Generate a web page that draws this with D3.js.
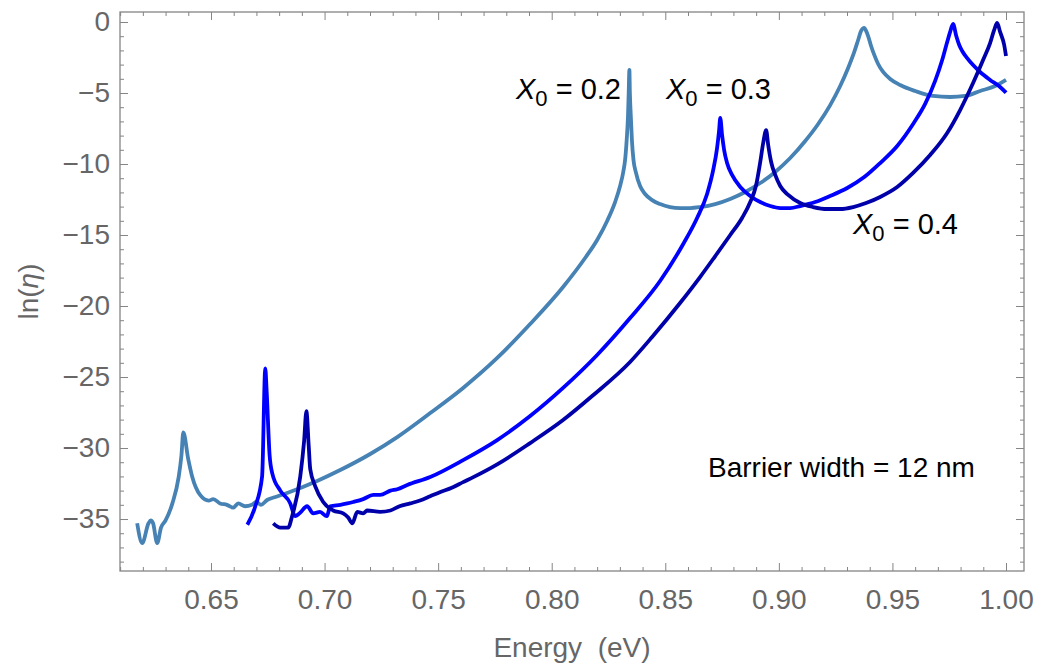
<!DOCTYPE html>
<html><head><meta charset="utf-8">
<script src="https://cdn.jsdelivr.net/npm/d3@7"></script>
<style>
html,body{margin:0;padding:0;background:#fff;}
svg{display:block;font-family:"Liberation Sans",Arial,sans-serif;}
</style></head>
<body>
<svg id="chart" width="1051" height="666"></svg>
<script>
// ---- data (Energy in eV, ln(eta)) ----
const series02 = [[0.6175,-35.3],[0.6197,-36.7],[0.6225,-35.3],[0.6235,-35.1],[0.6245,-35.3],[0.6263,-36.7],[0.628,-35.6],[0.630,-35.1],[0.633,-33.9],[0.6357,-32.1],[0.6370,-30.5],[0.6378,-28.9],[0.6400,-30.8],[0.6417,-32.0],[0.6452,-33.3],[0.649,-33.7],[0.651,-33.6],[0.654,-33.9],[0.657,-34.0],[0.6598,-34.2],[0.662,-33.9],[0.665,-34.1],[0.668,-34.0],[0.670,-33.8],[0.672,-34.0],[0.6747,-33.66],[0.678,-33.47],[0.6835,-33.17],[0.6967,-32.32],[0.7069,-31.55],[0.7201,-30.42],[0.7320,-29.23],[0.7465,-27.54],[0.7610,-25.77],[0.7760,-23.66],[0.7905,-21.27],[0.8050,-18.66],[0.8147,-16.62],[0.8200,-15.35],[0.8244,-14.01],[0.8279,-12.68],[0.8301,-11.55],[0.8315,-10.56],[0.8323,-9.72],[0.8330,-8.31],[0.8336,-6.55],[0.8339,-4.93],[0.8342,-3.38],[0.8344,-4.93],[0.8348,-6.55],[0.8353,-8.31],[0.8360,-9.72],[0.8370,-10.56],[0.8389,-11.55],[0.8411,-12.11],[0.8442,-12.54],[0.8477,-12.82],[0.8521,-13.03],[0.8566,-13.10],[0.8610,-13.10],[0.8654,-13.03],[0.8720,-12.82],[0.8786,-12.46],[0.8852,-11.97],[0.8918,-11.34],[0.8984,-10.56],[0.9050,-9.58],[0.9116,-8.38],[0.9173,-7.18],[0.9226,-5.85],[0.9270,-4.51],[0.9305,-3.24],[0.9332,-2.11],[0.9349,-1.27],[0.9362,-0.63],[0.9376,-0.42],[0.9384,-0.63],[0.9393,-0.99],[0.9406,-1.69],[0.9420,-2.32],[0.9437,-2.96],[0.9459,-3.52],[0.9490,-4.01],[0.9534,-4.44],[0.9600,-4.86],[0.9679,-5.21],[0.9754,-5.28],[0.9820,-5.21],[0.9886,-4.86],[0.9952,-4.51],[1.0,-4.08]];
const series03 = [[0.666,-35.4],[0.6695,-34.1],[0.6725,-32.0],[0.6739,-24.4],[0.6745,-26.0],[0.6758,-30.5],[0.677,-31.8],[0.6805,-33.0],[0.6849,-33.9],[0.687,-34.8],[0.689,-34.6],[0.6923,-34.1],[0.695,-34.6],[0.698,-34.5],[0.701,-34.8],[0.7025,-34.1],[0.707,-34.0],[0.710,-33.9],[0.7126,-33.8],[0.717,-33.6],[0.7214,-33.3],[0.7245,-33.3],[0.729,-33.0],[0.732,-32.9],[0.7364,-32.6],[0.7465,-32.04],[0.7610,-30.85],[0.7760,-29.44],[0.7905,-27.75],[0.8050,-25.77],[0.8200,-23.45],[0.8345,-20.85],[0.8477,-18.24],[0.8579,-15.63],[0.8640,-13.80],[0.8684,-12.11],[0.8711,-10.42],[0.8728,-8.87],[0.8737,-7.61],[0.8742,-6.76],[0.8750,-7.96],[0.8759,-9.01],[0.8772,-9.93],[0.8794,-10.77],[0.8830,-11.62],[0.8874,-12.25],[0.8918,-12.68],[0.8962,-12.96],[0.9006,-13.10],[0.9050,-13.10],[0.9094,-12.96],[0.9160,-12.68],[0.9226,-12.25],[0.9301,-11.69],[0.9376,-10.92],[0.9446,-9.93],[0.9521,-8.73],[0.9591,-7.18],[0.9644,-5.77],[0.9688,-4.15],[0.9719,-2.68],[0.9741,-1.41],[0.9754,-0.70],[0.9767,-0.14],[0.9781,-0.99],[0.9794,-1.62],[0.9807,-2.04],[0.9829,-2.54],[0.9855,-3.03],[0.9886,-3.52],[0.9930,-4.08],[0.9974,-4.58],[1.0,-4.98]];
const series04 = [[0.6774,-35.3],[0.6805,-35.6],[0.684,-35.6],[0.6857,-34.8],[0.6893,-32.0],[0.6910,-29.5],[0.692,-27.4],[0.6930,-29.8],[0.6937,-31.5],[0.6959,-32.7],[0.6994,-33.8],[0.7038,-34.4],[0.7082,-34.6],[0.7104,-34.9],[0.7122,-35.3],[0.7144,-34.5],[0.717,-34.6],[0.7188,-34.4],[0.7245,-34.5],[0.729,-34.4],[0.733,-34.1],[0.7377,-33.9],[0.742,-33.7],[0.7465,-33.4],[0.751,-33.1],[0.756,-32.8],[0.761,-32.4],[0.7655,-32.05],[0.776,-31.15],[0.7905,-29.65],[0.8050,-28.03],[0.8178,-26.34],[0.8345,-23.94],[0.8442,-22.18],[0.8565,-19.79],[0.8653,-17.96],[0.8720,-16.48],[0.8786,-15.00],[0.8838,-13.80],[0.8874,-12.68],[0.8900,-11.48],[0.8918,-9.86],[0.8931,-8.52],[0.8944,-7.61],[0.8953,-8.66],[0.8966,-9.86],[0.8984,-10.77],[0.9006,-11.55],[0.9041,-12.18],[0.9094,-12.75],[0.9151,-13.03],[0.9213,-13.17],[0.9270,-13.17],[0.9327,-13.03],[0.9384,-12.75],[0.9446,-12.32],[0.9521,-11.62],[0.9591,-10.63],[0.9666,-9.37],[0.9741,-7.82],[0.9798,-6.20],[0.9855,-4.30],[0.9899,-2.68],[0.9930,-1.48],[0.9948,-0.56],[0.9961,-0.07],[0.9974,-0.70],[0.9992,-1.62],[1.0,-2.4]];
const seriesColors = ["#4682B4", "#0000FF", "#0000AA"];
const xMajorTicks = [0.65, 0.70, 0.75, 0.80, 0.85, 0.90, 0.95, 1.00];
const yMajorTicks = [0, -5, -10, -15, -20, -25, -30, -35];
const xDomain = [0.60994, 1.00792];
const yDomain = [-38.66, 0.704];

// ---- layout ----
const svg = d3.select("#chart");
const L = 120, R = 1024, T = 12, B = 571;
const x = d3.scaleLinear().domain(xDomain).range([L, R]);
const y = d3.scaleLinear().domain(yDomain).range([B, T]);
const frameColor = "#858585", labelColor = "#666666";

const xMinor = d3.range(61, 101).map(d => d / 100).filter(v => !xMajorTicks.some(m => Math.abs(m - v) < 1e-9));
const yMinor = d3.range(-38, 1).filter(v => v % 5 !== 0);

function styleAxis(g) {
  g.select(".domain").remove();
  g.selectAll("line").attr("stroke", frameColor).attr("stroke-width", 1);
  g.selectAll("text").attr("fill", labelColor).style("font-size", "28px");
}
// bottom
svg.append("g").attr("transform", `translate(0,${B})`)
  .call(d3.axisBottom(x).tickValues(xMajorTicks).tickSize(-8).tickPadding(18).tickFormat(d3.format(".2f")))
  .call(styleAxis);
svg.append("g").attr("transform", `translate(0,${B})`)
  .call(d3.axisBottom(x).tickValues(xMinor).tickSize(-4).tickFormat(""))
  .call(styleAxis);
// top
svg.append("g").attr("transform", `translate(0,${T})`)
  .call(d3.axisTop(x).tickValues(xMajorTicks).tickSize(-8).tickFormat(""))
  .call(styleAxis);
svg.append("g").attr("transform", `translate(0,${T})`)
  .call(d3.axisTop(x).tickValues(xMinor).tickSize(-4).tickFormat(""))
  .call(styleAxis);
// left
svg.append("g").attr("transform", `translate(${L},0)`)
  .call(d3.axisLeft(y).tickValues(yMajorTicks).tickSize(-8).tickPadding(10).tickFormat(d => d === 0 ? "0" : "\u2212" + Math.abs(d)))
  .call(styleAxis);
svg.append("g").attr("transform", `translate(${L},0)`)
  .call(d3.axisLeft(y).tickValues(yMinor).tickSize(-4).tickFormat(""))
  .call(styleAxis);
// right
svg.append("g").attr("transform", `translate(${R},0)`)
  .call(d3.axisRight(y).tickValues(yMajorTicks).tickSize(-8).tickFormat(""))
  .call(styleAxis);
svg.append("g").attr("transform", `translate(${R},0)`)
  .call(d3.axisRight(y).tickValues(yMinor).tickSize(-4).tickFormat(""))
  .call(styleAxis);

// frame
svg.append("rect").attr("x", L).attr("y", T).attr("width", R - L).attr("height", B - T)
  .attr("fill", "none").attr("stroke", frameColor).attr("stroke-width", 1.3);

// clip
svg.append("clipPath").attr("id", "clip").append("rect")
  .attr("x", L).attr("y", T).attr("width", R - L).attr("height", B - T);

const line = d3.line().curve(d3.curveMonotoneX).x(d => x(d[0])).y(d => y(d[1]));
const plot = svg.append("g").attr("clip-path", "url(#clip)");
[series02, series03, series04].forEach((s, i) => {
  plot.append("path").datum(s).attr("d", line)
    .attr("fill", "none").attr("stroke", seriesColors[i])
    .attr("stroke-width", 3.8).attr("stroke-linejoin", "round").attr("stroke-linecap", "butt");
});

// axis labels
svg.append("text").attr("x", (L + R) / 2).attr("y", 657).attr("text-anchor", "middle")
  .attr("fill", labelColor).style("font-size", "28px")
  .text("Energy\u00a0\u00a0(eV)");
svg.append("text").attr("transform", `translate(38,${(T + B) / 2}) rotate(-90)`).attr("text-anchor", "middle")
  .attr("fill", labelColor).style("font-size", "28px")
  .call(t => { t.append("tspan").text("ln("); t.append("tspan").attr("font-style", "italic").text("\u03b7"); t.append("tspan").text(")"); });

// annotations
function xLabel(xp, yp, val) {
  const t = svg.append("text").attr("x", xp).attr("y", yp).attr("fill", "#000").style("font-size", "29px");
  t.append("tspan").attr("font-style", "italic").text("X");
  t.append("tspan").attr("dy", 7).style("font-size", "22px").text("0");
  t.append("tspan").attr("dy", -7).text("\u00a0=\u00a0" + val);
}
xLabel(516, 99, "0.2");
xLabel(666, 99, "0.3");
xLabel(853, 234, "0.4");
svg.append("text").attr("x", 708).attr("y", 477).attr("fill", "#000").style("font-size", "28px")
  .text("Barrier width = 12 nm");
</script>
</body></html>
